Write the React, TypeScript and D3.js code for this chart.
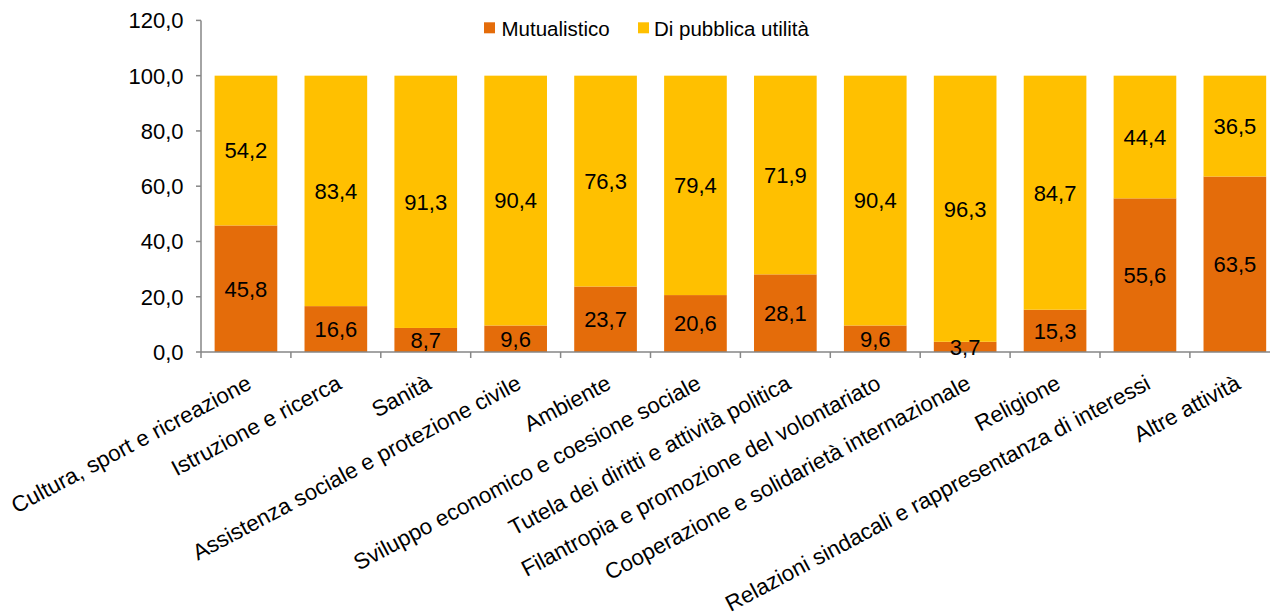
import React from "react";
import * as d3 from "d3";

const categories = [
  "Cultura, sport e ricreazione",
  "Istruzione e ricerca",
  "Sanità",
  "Assistenza sociale e protezione civile",
  "Ambiente",
  "Sviluppo economico e coesione sociale",
  "Tutela dei diritti e attività politica",
  "Filantropia e promozione del volontariato",
  "Cooperazione e solidarietà internazionale",
  "Religione",
  "Relazioni sindacali e rappresentanza di interessi",
  "Altre attività",
];
const mutualistico = [45.8, 16.6, 8.7, 9.6, 23.7, 20.6, 28.1, 9.6, 3.7, 15.3, 55.6, 63.5];
const pubblicaUtilita = [54.2, 83.4, 91.3, 90.4, 76.3, 79.4, 71.9, 90.4, 96.3, 84.7, 44.4, 36.5];
const seriesNames = ["Mutualistico", "Di pubblica utilità"];
const yTicks = [0, 20, 40, 60, 80, 100, 120];

const COLORS = ["#E46C0A", "#FFC000"];
const AXIS = "#868686";
const FONT = "'Liberation Sans', Arial, sans-serif";

const fmt = (v: number) => d3.format(".1f")(v).replace(".", ",");

export default function App() {
  const W = 1270, H = 612;
  const x0 = 201, x1 = 1279.8, yTop = 20.4, yBot = 352;
  const x = d3.scaleBand<string>().domain(categories).range([x0, x1]).paddingInner(0.303).paddingOuter(0.1515);
  const y = d3.scaleLinear().domain([0, 120]).range([yBot, yTop]);
  const step = x.step();

  return (
    <svg width={W} height={H} style={{ position: "absolute", left: 0, top: 0, background: "#fff" }} fontFamily={FONT}>
      {/* bars */}
      {categories.map((c, i) => {
        const m = mutualistico[i];
        const p = pubblicaUtilita[i];
        const bx = x(c)!;
        const bw = x.bandwidth();
        return (
          <g key={c}>
            <rect x={bx} y={y(m)} width={bw} height={y(0) - y(m)} fill={COLORS[0]} />
            <rect x={bx} y={y(m + p)} width={bw} height={y(m) - y(m + p)} fill={COLORS[1]} />
          </g>
        );
      })}
      {/* y axis */}
      <line x1={x0} x2={x0} y1={y(120)} y2={y(0)} stroke={AXIS} strokeWidth={1.5} />
      {yTicks.map((t) => (
        <g key={t}>
          <line x1={x0 - 5} x2={x0} y1={y(t)} y2={y(t)} stroke={AXIS} strokeWidth={1.5} />
          <text x={183.5} y={y(t)} dy="0.36em" textAnchor="end" fontSize={22} fill="#000">
            {fmt(t)}
          </text>
        </g>
      ))}
      {/* x axis */}
      <line x1={x0} x2={x1} y1={y(0)} y2={y(0)} stroke={AXIS} strokeWidth={1.5} />
      {d3.range(categories.length + 1).map((i) => (
        <line key={i} x1={x0 + i * step} x2={x0 + i * step} y1={y(0)} y2={y(0) + 6} stroke={AXIS} strokeWidth={1.5} />
      ))}
      {/* data labels */}
      {categories.map((c, i) => {
        const m = mutualistico[i];
        const p = pubblicaUtilita[i];
        const cx = x(c)! + x.bandwidth() / 2;
        return (
          <g key={"l" + c} fontSize={22} fill="#000" textAnchor="middle">
            <text x={cx} y={y(m / 2)} dy="0.36em">{fmt(m)}</text>
            <text x={cx} y={y(m + p / 2)} dy="0.36em">{fmt(p)}</text>
          </g>
        );
      })}
      {/* category labels */}
      {categories.map((c) => {
        const cx = x(c)! + x.bandwidth() / 2;
        return (
          <text key={"c" + c} transform={`translate(${cx + 7},${388}) rotate(-28)`} textAnchor="end" fontSize={22.3} fill="#000">
            {c}
          </text>
        );
      })}
      {/* legend */}
      <g fontSize={20.5} fill="#000">
        <rect x={484} y={22.3} width={11} height={11} fill={COLORS[0]} />
        <text x={501.5} y={36}>{seriesNames[0]}</text>
        <rect x={638} y={22.3} width={11} height={11} fill={COLORS[1]} />
        <text x={654} y={36}>{seriesNames[1]}</text>
      </g>
    </svg>
  );
}
